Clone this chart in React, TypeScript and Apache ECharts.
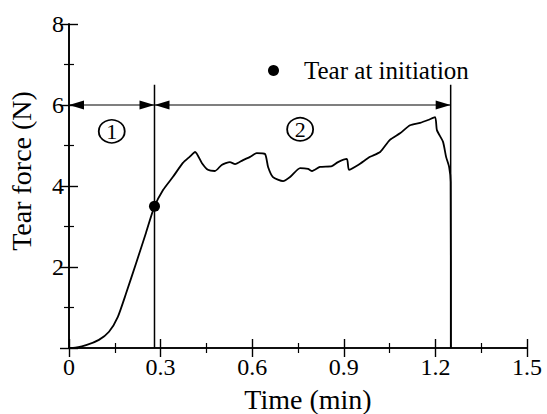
import React, { useEffect, useRef } from "react";
import * as echarts from "echarts";

// Tear force curve (time in min, force in N)
const curveTime = [0.0, 0.013, 0.056, 0.098, 0.131, 0.16, 0.187, 0.22, 0.252, 0.279, 0.308, 0.34, 0.373, 0.395, 0.413, 0.435, 0.455, 0.478, 0.5, 0.527, 0.544, 0.57, 0.593, 0.615, 0.642, 0.652, 0.668, 0.701, 0.724, 0.757, 0.783, 0.796, 0.822, 0.861, 0.881, 0.91, 0.917, 0.947, 0.986, 1.019, 1.051, 1.084, 1.117, 1.15, 1.176, 1.199, 1.205, 1.225, 1.235, 1.245, 1.25, 1.251];
const curveForce = [0.0, 0.0, 0.07, 0.2, 0.4, 0.77, 1.35, 2.1, 2.84, 3.48, 3.9, 4.22, 4.57, 4.72, 4.84, 4.57, 4.4, 4.37, 4.52, 4.59, 4.54, 4.64, 4.72, 4.81, 4.79, 4.47, 4.22, 4.12, 4.22, 4.44, 4.42, 4.37, 4.47, 4.49, 4.59, 4.67, 4.4, 4.52, 4.72, 4.84, 5.14, 5.3, 5.5, 5.56, 5.63, 5.7, 5.38, 5.09, 4.72, 4.47, 4.1, 0.0];

// Tear initiation point
const initiationPoint = [0.28, 3.5];
const legendName = "Tear at initiation";

// Region boundaries (time) and annotations
const boundaryTimes = [0.28, 1.25];
const boundaryTop = 6.5;
const arrowSegments = [
  [0, 0.28, 6],
  [0.28, 1.25, 6],
];
const regionLabels = [
  [0.14, 5.35, "1"],
  [0.757, 5.4, "2"],
];

const xTicks = [0, 0.3, 0.6, 0.9, 1.2, 1.5];
const yTicks = [0, 2, 4, 6, 8];

const FONT = "Liberation Serif";

export default function App() {
  const ref = useRef<HTMLDivElement>(null);
  useEffect(() => {
    if (!ref.current) return;
    const chart = echarts.init(ref.current, undefined, { renderer: "svg" });
    const curve = curveTime.map((t, i) => [t, curveForce[i]]);
    const axisLine = { show: true, lineStyle: { color: "#000", width: 1.6 } };
    const tick = { show: true, inside: true, length: 9, lineStyle: { color: "#000", width: 1.4 } };
    const minorTick = { show: true, splitNumber: 2, length: 5, lineStyle: { color: "#000", width: 1.2 } };
    chart.setOption({
      animation: false,
      backgroundColor: "#fff",
      textStyle: { fontFamily: FONT, color: "#000" },
      grid: { left: 69, right: 20, top: 24, bottom: 66, containLabel: false, outerBoundsMode: "none" },
      legend: {
        data: [{ name: legendName, icon: "circle" }],
        left: 263,
        top: 53,
        itemWidth: 11,
        itemHeight: 11,
        itemStyle: { color: "#000", opacity: 1 },
        textStyle: { fontFamily: FONT, fontSize: 25, color: "#000", padding: [0, 0, 0, 20] },
      },
      xAxis: [
        {
          type: "value",
          min: xTicks[0],
          max: xTicks[xTicks.length - 1],
          interval: 0.3,
          name: "Time (min)",
          nameLocation: "middle",
          nameGap: 37,
          nameTextStyle: { fontFamily: FONT, fontSize: 28, color: "#000", padding: [0, 0, 0, 20] },
          axisLine,
          axisTick: tick,
          minorTick,
          splitLine: { show: false },
          axisLabel: {
            fontFamily: FONT,
            fontSize: 24,
            color: "#000",
            margin: 7,
            formatter: (v: number) => (v === 0 ? "0" : v.toFixed(1)),
          },
        },
        {
          type: "value",
          position: "top",
          min: xTicks[0],
          max: xTicks[xTicks.length - 1],
          interval: 0.3,
          axisLine,
          axisTick: tick,
          minorTick,
          splitLine: { show: false },
          axisLabel: { show: false },
        },
      ],
      yAxis: [
        {
          type: "value",
          min: yTicks[0],
          max: yTicks[yTicks.length - 1],
          interval: 2,
          name: "Tear force (N)",
          nameLocation: "middle",
          nameGap: 34,
          nameTextStyle: { fontFamily: FONT, fontSize: 28, color: "#000", padding: [0, 0, 0, 30] },
          axisLine,
          axisTick: tick,
          minorTick,
          splitLine: { show: false },
          axisLabel: {
            fontFamily: FONT,
            fontSize: 24,
            color: "#000",
            margin: 5,
            showMinLabel: false,
          },
        },
        {
          type: "value",
          position: "right",
          min: yTicks[0],
          max: yTicks[yTicks.length - 1],
          interval: 2,
          axisLine,
          axisTick: tick,
          minorTick,
          splitLine: { show: false },
          axisLabel: { show: false },
        },
      ],
      series: [
        {
          type: "line",
          name: "curve",
          data: curve,
          showSymbol: false,
          symbol: "none",
          smooth: 0.2,
          lineStyle: { color: "#000", width: 1.8 },
          z: 3,
        },
        {
          type: "custom",
          name: "boundaries",
          data: boundaryTimes.map((t) => [t, 0, boundaryTop]),
          encode: { x: 0, y: [1, 2] },
          renderItem: (params: any, api: any) => {
            const p0 = api.coord([api.value(0), api.value(1)]);
            const p1 = api.coord([api.value(0), api.value(2)]);
            return {
              type: "line",
              shape: { x1: p0[0], y1: p0[1], x2: p1[0], y2: p1[1] },
              style: { stroke: "#000", lineWidth: 1.5 },
            };
          },
          z: 2,
        },
        {
          type: "custom",
          name: "arrows",
          data: arrowSegments,
          encode: { x: [0, 1], y: 2 },
          renderItem: (params: any, api: any) => {
            const p0 = api.coord([api.value(0), api.value(2)]);
            const p1 = api.coord([api.value(1), api.value(2)]);
            const L = 15;
            const W = 4.5;
            return {
              type: "group",
              children: [
                {
                  type: "line",
                  shape: { x1: p0[0], y1: p0[1], x2: p1[0], y2: p1[1] },
                  style: { stroke: "#000", lineWidth: 1.2 },
                },
                {
                  type: "polygon",
                  shape: { points: [[p0[0], p0[1]], [p0[0] + L, p0[1] - W], [p0[0] + L, p0[1] + W]] },
                  style: { fill: "#000" },
                },
                {
                  type: "polygon",
                  shape: { points: [[p1[0], p1[1]], [p1[0] - L, p1[1] - W], [p1[0] - L, p1[1] + W]] },
                  style: { fill: "#000" },
                },
              ],
            };
          },
          z: 2,
        },
        {
          type: "scatter",
          name: "regions",
          data: regionLabels,
          symbol: "circle",
          symbolSize: [26, 23],
          itemStyle: { color: "rgba(0,0,0,0)", borderColor: "#000", borderWidth: 1.7, opacity: 1 },
          label: {
            show: true,
            position: "inside",
            formatter: (p: any) => p.value[2],
            fontFamily: FONT,
            fontSize: 22,
            color: "#000",
            textBorderWidth: 0,
          },
          z: 4,
        },
        {
          type: "scatter",
          name: legendName,
          data: [initiationPoint],
          symbol: "circle",
          symbolSize: 11,
          itemStyle: { color: "#000", opacity: 1 },
          z: 5,
        },
      ],
    });
    return () => chart.dispose();
  }, []);
  return <div ref={ref} style={{ width: 547, height: 414, position: "absolute", left: 0, top: 0 }} />;
}
